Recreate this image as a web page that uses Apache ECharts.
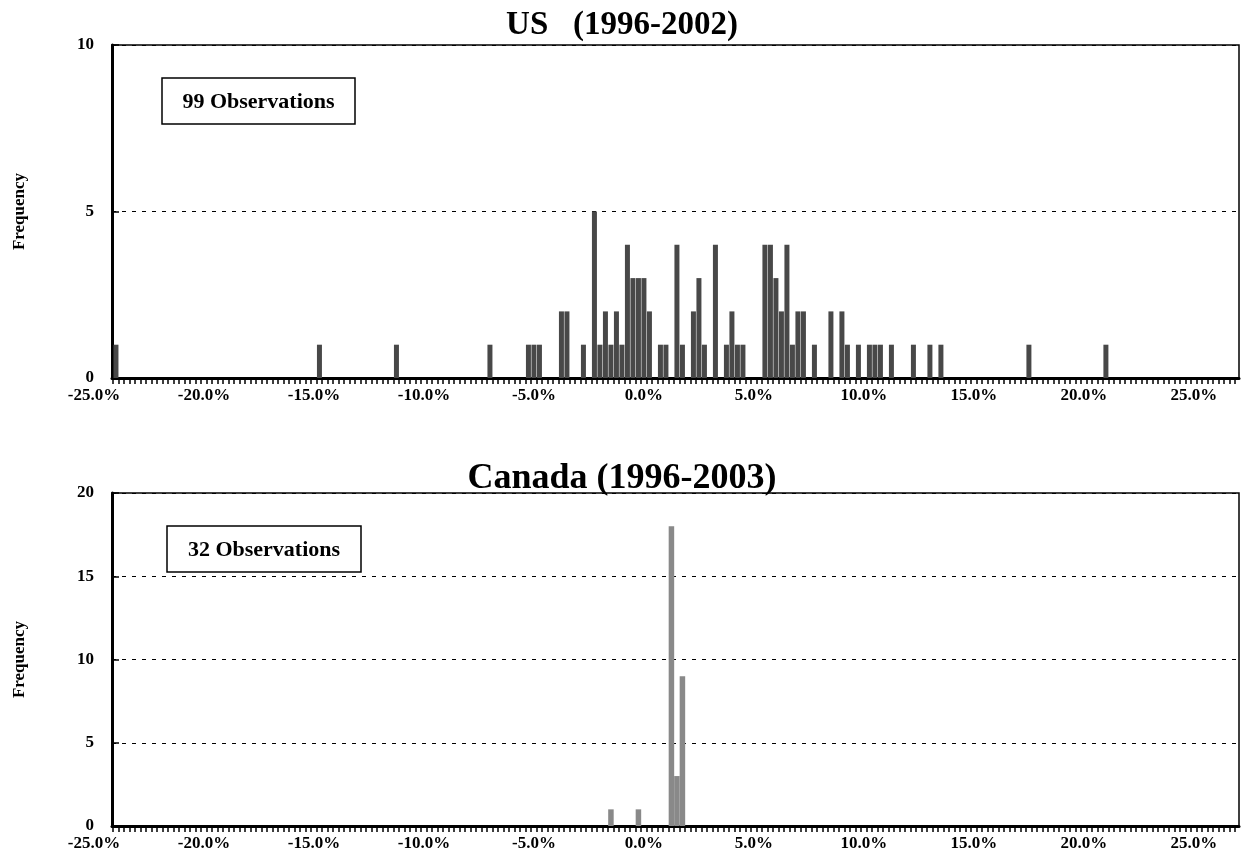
<!DOCTYPE html>
<html>
<head>
<meta charset="utf-8">
<title>US / Canada frequency</title>
<script src="https://cdn.jsdelivr.net/npm/echarts@6/dist/echarts.min.js"></script>
<style>
  html, body { margin: 0; padding: 0; background: #fff; }
  #chart { width: 1244px; height: 854px; }
</style>
</head>
<body>
<div id="chart"></div>
<script>
// bin centres (% change, 0.25% bins) and number of observations per bin
const usBins = [-24, -14.75, -11.25, -7, -5.25, -5, -4.75, -3.75, -3.5, -2.75,
  -2.25, -2, -1.75, -1.5, -1.25, -1, -0.75, -0.5, -0.25, 0,
  0.25, 0.75, 1, 1.5, 1.75, 2.25, 2.5, 2.75, 3.25, 3.75,
  4, 4.25, 4.5, 5.5, 5.75, 6, 6.25, 6.5, 6.75, 7,
  7.25, 7.75, 8.5, 9, 9.25, 9.75, 10.25, 10.5, 10.75, 11.25,
  12.25, 13, 13.5, 17.5, 21];
const usCounts = [1, 1, 1, 1, 1, 1, 1, 2, 2, 1,
  5, 1, 2, 1, 2, 1, 4, 3, 3, 3,
  2, 1, 1, 4, 1, 2, 3, 1, 4, 1,
  2, 1, 1, 4, 4, 3, 2, 4, 1, 2,
  2, 1, 2, 2, 1, 1, 1, 1, 1, 1,
  1, 1, 1, 1, 1];

const caBins = [-1.5, -0.25, 1.25, 1.5, 1.75];
const caCounts = [1, 1, 18, 3, 9];

const xLabels = [-25, -20, -15, -10, -5, 0, 5, 10, 15, 20, 25];
const usYLabels = [0, 5, 10];
const caYLabels = [0, 5, 10, 15, 20];

const serif = '"Liberation Serif", "Times New Roman", serif';
const xMin = -24.18;
const xMax = 27.05;

// small tick on every bin edge, like the original axis
const binEdges = [];
for (let e = -24.125; e < xMax; e += 0.25) binEdges.push(e);

const fmtPct = v => v.toFixed(1) + '%';

function xAxisFor(gridIndex) {
  return {
    type: 'value',
    gridIndex: gridIndex,
    min: xMin,
    max: xMax,
    axisLine: { onZero: false, lineStyle: { color: '#000', width: 3 } },
    axisTick: { customValues: binEdges, length: 6, lineStyle: { color: '#000', width: 1.5 } },
    axisLabel: {
      customValues: xLabels,
      formatter: fmtPct,
      color: '#000',
      fontFamily: serif,
      fontWeight: 'bold',
      fontSize: 17,
      margin: 9
    },
    splitLine: { show: false }
  };
}

function yAxisFor(gridIndex, max, labels) {
  return {
    type: 'value',
    gridIndex: gridIndex,
    min: 0,
    max: max,
    interval: 5,
    name: 'Frequency',
    nameLocation: 'middle',
    nameGap: 84,
    nameTextStyle: { color: '#000', fontFamily: serif, fontWeight: 'bold', fontSize: 17 },
    axisLine: { show: true, onZero: false, lineStyle: { color: '#000', width: 3 } },
    axisTick: { show: true, inside: true, length: 7, lineStyle: { color: '#000', width: 1.5 } },
    axisLabel: {
      customValues: labels,
      color: '#000',
      fontFamily: serif,
      fontWeight: 'bold',
      fontSize: 17,
      margin: 18
    },
    splitLine: { show: true, lineStyle: { color: '#000', width: 1, type: [4, 6] } }
  };
}

const titleStyle = { color: '#000', fontFamily: serif, fontWeight: 'bold' };

const chart = echarts.init(document.getElementById('chart'));

chart.setOption({
  backgroundColor: '#fff',
  animation: false,
  title: [
    { text: 'US   (1996-2002)', left: 'center', top: 4, textStyle: Object.assign({ fontSize: 33 }, titleStyle) },
    { text: 'Canada (1996-2003)', left: 'center', top: 456, textStyle: Object.assign({ fontSize: 36 }, titleStyle) }
  ],
  grid: [
    { left: 112, right: 5, top: 45, height: 333, show: true, borderColor: '#000', borderWidth: 1.5, outerBoundsMode: 'none' },
    { left: 112, right: 5, top: 493, height: 333, show: true, borderColor: '#000', borderWidth: 1.5, outerBoundsMode: 'none' }
  ],
  xAxis: [xAxisFor(0), xAxisFor(1)],
  yAxis: [yAxisFor(0, 10, usYLabels), yAxisFor(1, 20, caYLabels)],
  series: [
    {
      name: 'US',
      type: 'bar',
      xAxisIndex: 0,
      yAxisIndex: 0,
      barWidth: 5,
      silent: true,
      itemStyle: { color: '#484848' },
      data: usBins.map((b, i) => [b, usCounts[i]])
    },
    {
      name: 'Canada',
      type: 'bar',
      xAxisIndex: 1,
      yAxisIndex: 1,
      barWidth: 5.5,
      silent: true,
      itemStyle: { color: '#898989' },
      data: caBins.map((b, i) => [b, caCounts[i]])
    }
  ]
});

// the -25.0% label sits just left of the plot, outside the axis extent
function outsideLabel(gridIndex) {
  const p = chart.convertToPixel({ gridIndex: gridIndex }, [xLabels[0], 0]);
  return {
    type: 'text',
    x: p[0],
    y: p[1] + 9,
    style: {
      text: fmtPct(xLabels[0]),
      align: 'center',
      verticalAlign: 'top',
      fill: '#000',
      font: 'bold 17px ' + serif
    }
  };
}

function obsBox(x, y, w, h, n) {
  return {
    type: 'group',
    x: x,
    y: y,
    children: [
      { type: 'rect', shape: { x: 0, y: 0, width: w, height: h }, style: { fill: '#fff', stroke: '#000', lineWidth: 1.5 } },
      {
        type: 'text',
        x: w / 2,
        y: h / 2 + 1,
        style: {
          text: n + ' Observations',
          align: 'center',
          verticalAlign: 'middle',
          fill: '#000',
          font: 'bold 22px ' + serif
        }
      }
    ]
  };
}

chart.setOption({
  graphic: [
    outsideLabel(0),
    outsideLabel(1),
    obsBox(162, 78, 193, 46, usCounts.reduce((a, b) => a + b, 0)),
    obsBox(167, 526, 194, 46, caCounts.reduce((a, b) => a + b, 0))
  ]
});
</script>
</body>
</html>
